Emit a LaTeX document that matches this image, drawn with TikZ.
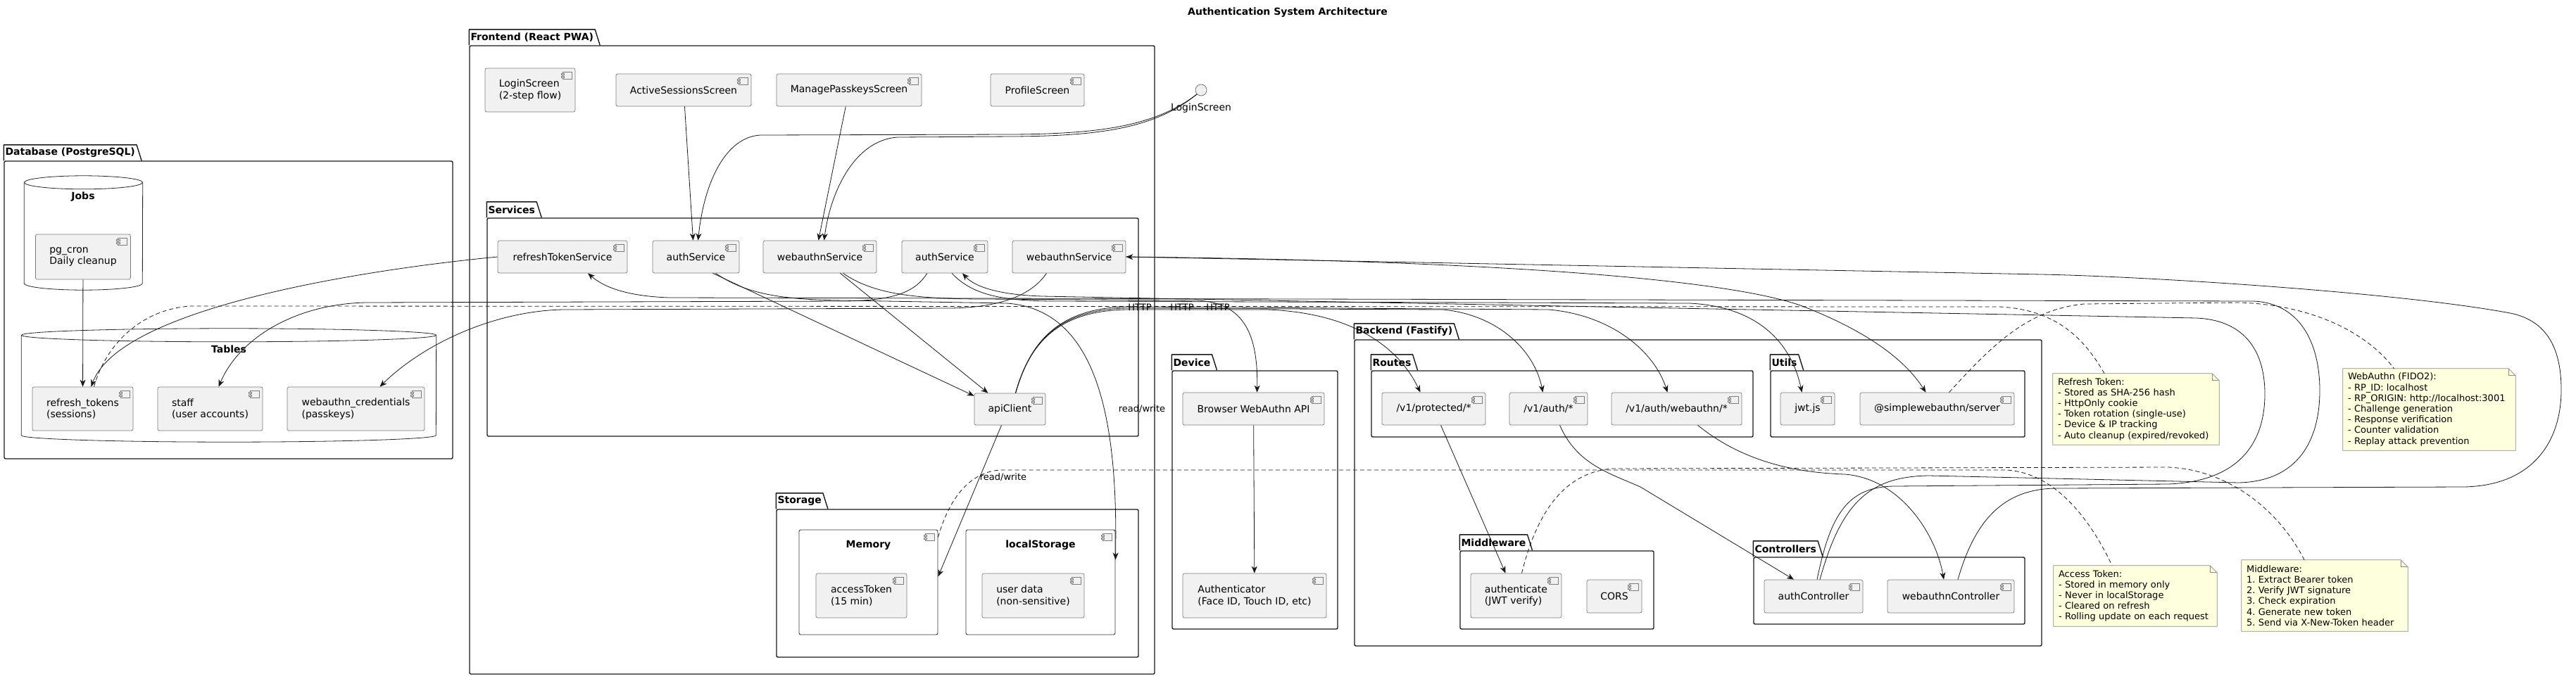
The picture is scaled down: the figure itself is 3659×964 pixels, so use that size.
\documentclass[tikz,border=0pt]{standalone}
\usepackage{fontspec}
\setmainfont{DejaVu Sans}
\usepackage{tikz}
\usetikzlibrary{positioning,arrows.meta,fit,backgrounds,calc}
\definecolor{compfill}{RGB}{241,241,241}
\definecolor{compline}{RGB}{125,125,125}
\definecolor{notefill}{RGB}{254,255,221}
\definecolor{noteline}{RGB}{140,140,140}
\definecolor{edgeline}{RGB}{24,24,24}
\frenchspacing
\tikzset{
  comp/.style={draw=compline, line width=0.7pt, fill=compfill, rounded corners=2.5pt,
    font=\fontsize{14}{16.5}\selectfont, align=left, inner sep=0pt, comp-icon},
  comp-icon/.style={path picture={
    \draw[draw=compline, line width=0.6pt, fill=compfill, sharp corners]
      ([xshift=-5pt,yshift=-5pt]path picture bounding box.north east) rectangle ++(-13pt,-10pt);
    \draw[draw=compline, line width=0.6pt, fill=compfill, sharp corners]
      ([xshift=-20pt,yshift=-7pt]path picture bounding box.north east) rectangle ++(4.5pt,-2.2pt);
    \draw[draw=compline, line width=0.6pt, fill=compfill, sharp corners]
      ([xshift=-20pt,yshift=-10.8pt]path picture bounding box.north east) rectangle ++(4.5pt,-2.2pt);}},
  comp-group/.style={draw=black!80, line width=0.9pt, fill=white, rounded corners=2.5pt,
    inner sep=0pt, comp-icon},
  group-title/.style={font=\fontsize{14}{16.5}\selectfont\bfseries},
  pkg-body/.style={draw=black!90, line width=1.4pt, rounded corners=2pt, inner sep=0pt},
  pkg-tab/.style={font=\fontsize{14}{16}\selectfont\bfseries, minimum height=22pt,
    inner xsep=2pt, inner ysep=0pt},
  pkg-line/.style={draw=black!90, line width=1.4pt, line join=round},
  cyl-line/.style={draw=black!85, line width=0.8pt},
  note-box/.style={font=\fontsize{13}{15.2}\selectfont, align=left, inner xsep=7pt, inner ysep=4pt},
  note-fill/.style={draw=noteline, fill=notefill, line width=0.7pt},
  flow-arrow/.style={-{Stealth[length=10pt,width=8pt,inset=3pt]}, line width=0.8pt, draw=edgeline},
  note-link/.style={dash pattern=on 6pt off 4pt, line width=0.8pt, draw=edgeline},
  edge-label/.style={font=\fontsize{13}{15}\selectfont},
  title-text/.style={font=\fontsize{14}{16}\selectfont\bfseries}
}
% folder tab on top of a package body
\newcommand{\pkgtab}[2]{%
  \node[pkg-tab, anchor=south west] (#1Tab) at (#1.north west) {#2};
  \draw[pkg-line] (#1Tab.south west) -- (#1Tab.north west) -- (#1Tab.north east)
    -- ([xshift=7pt]#1Tab.south east);}
% database cylinder
\newcommand{\dbcyl}[5]{%
  \node[fit={(#2,#3) (#4,#5)}, inner sep=0pt] (#1) {};
  \pgfmathsetmacro{\cylrx}{(#4-#2)/2}
  \draw[cyl-line] ([yshift=-9.5pt]#1.north west) -- ([yshift=9.5pt]#1.south west)
    arc[start angle=180, end angle=360, x radius=\cylrx pt, y radius=9.5pt]
    -- ([yshift=-9.5pt]#1.north east);
  \draw[cyl-line] ([yshift=-9.5pt]#1.north) ellipse [x radius=\cylrx pt, y radius=9.5pt];}
% note background with folded corner
\newcommand{\notefold}[1]{%
  \begin{scope}[on background layer]
    \filldraw[note-fill] (#1.north west) -- ([xshift=-10pt]#1.north east)
      -- ([yshift=-10pt]#1.north east) -- (#1.south east) -- (#1.south west) -- cycle;
    \draw[note-fill, fill=none] ([xshift=-10pt]#1.north east) |- ([yshift=-10pt]#1.north east);
  \end{scope}}

\begin{document}
\begin{tikzpicture}[x=1pt, y=-1pt]
\useasboundingbox (0,0) rectangle (3659,964);
\begin{scope}[on background layer]
  \fill[white] (0,0) rectangle (3659,964);
\end{scope}

\node[title-text] (title) at (1829,18) {Authentication System Architecture};

% Database
\node[pkg-body, fit={(6,229) (643,652)}] (dbPkg) {};
\pkgtab{dbPkg}{Database (PostgreSQL)}
\dbcyl{jobsCyl}{34.5}{250}{202.5}{412}
\node[group-title] (jobsLbl) at (118,280) {Jobs};
\dbcyl{tablesCyl}{30.5}{467}{619.5}{628}
\node[group-title] (tablesLbl) at (325,496) {Tables};
\node[comp, minimum width=135pt, minimum height=64pt] (pgCron) at (118,365) {pg\_cron\\Daily cleanup};
\node[comp, minimum width=143pt, minimum height=62pt] (refreshTbl) at (117.5,581) {refresh\_tokens\\(sessions)};
\node[comp, minimum width=149pt, minimum height=62pt] (staffTbl) at (298.5,581) {staff\\(user accounts)};
\node[comp, minimum width=195pt, minimum height=62pt] (credTbl) at (505.5,581) {webauthn\_credentials\\(passkeys)};

% Frontend
\node[pkg-body, fit={(667,65) (1640,958)}] (frontPkg) {};
\pkgtab{frontPkg}{Frontend (React PWA)}
\node[comp, minimum width=128pt, minimum height=62pt] (loginScr) at (753,128) {LoginScreen\\(2-step flow)};
\node[comp, minimum width=192pt, minimum height=46pt] (sessionsScr) at (971,128) {ActiveSessionsScreen};
\node[comp, minimum width=206pt, minimum height=46pt] (passkeysScr) at (1206,128) {ManagePasskeysScreen};
\node[comp, minimum width=133pt, minimum height=46pt] (profileScr) at (1473.5,128) {ProfileScreen};

\node[pkg-body, fit={(692,310) (1617,620)}] (svcPkg) {};
\pkgtab{svcPkg}{Services}
\node[comp, minimum width=184pt, minimum height=46pt] (refreshSvc) at (799,365) {refreshTokenService};
\node[comp, minimum width=123pt, minimum height=46pt] (authSvc) at (988.5,365) {authService};
\node[comp, minimum width=161pt, minimum height=46pt] (webauthnSvc) at (1164.5,365) {webauthnService};
\node[comp, minimum width=122pt, minimum height=46pt] (authSvcB) at (1342,365) {authService};
\node[comp, minimum width=161pt, minimum height=46pt] (webauthnSvcB) at (1518.5,365) {webauthnService};
\node[comp, minimum width=101pt, minimum height=45pt] (apiClient) at (1434.5,581.5) {apiClient};

\node[pkg-body, fit={(1103,724) (1617,934)}] (storePkg) {};
\pkgtab{storePkg}{Storage}
\node[comp-group, minimum width=197pt, minimum height=149pt,
  label={[group-title, anchor=center, yshift=-22pt]north:Memory}] (memBox) at (1233.5,827.5) {};
\node[comp, minimum width=129pt, minimum height=63pt] (accessTok) at (1223.5,846.5) {accessToken\\(15 min)};
\node[comp-group, minimum width=212pt, minimum height=149pt,
  label={[group-title, anchor=center, yshift=-22pt]north:localStorage}] (localBox) at (1478,827.5) {};
\node[comp, minimum width=145pt, minimum height=63pt] (userData) at (1467.5,846.5) {user data\\(non-sensitive)};

\node[circle, draw=black!60, fill=compfill, line width=0.7pt, minimum size=16pt, inner sep=0pt] (loginIf) at (1706,128) {};
\node[font=\fontsize{14}{16}\selectfont] (loginIfLbl) at (1706,154) {LoginScreen};

% Device
\node[pkg-body, fit={(1665,527) (1900,894)}] (devPkg) {};
\pkgtab{devPkg}{Device}
\node[comp, minimum width=201pt, minimum height=46pt] (browserApi) at (1780.5,581) {Browser WebAuthn API};
\node[comp, minimum width=204pt, minimum height=63pt] (authenticator) at (1782,846.5) {Authenticator\\(Face ID, Touch ID, etc)};

% Backend
\node[pkg-body, fit={(1924,483) (2900,918)}] (backPkg) {};
\pkgtab{backPkg}{Backend (Fastify)}
\node[pkg-body, fit={(1948,527) (2490,621)}] (routePkg) {};
\pkgtab{routePkg}{Routes}
\node[comp, minimum width=147pt, minimum height=46pt] (protRoute) at (2036.5,581) {/v1/protected/*};
\node[comp, minimum width=111pt, minimum height=46pt] (authRoute) at (2199.5,581) {/v1/auth/*};
\node[comp, minimum width=185pt, minimum height=46pt] (webauthnRoute) at (2381.5,581) {/v1/auth/webauthn/*};
\node[pkg-body, fit={(2515,527) (2876,621)}] (utilPkg) {};
\pkgtab{utilPkg}{Utils}
\node[comp, minimum width=77pt, minimum height=46pt] (jwtUtil) at (2567.5,581) {jwt.js};
\node[comp, minimum width=219pt, minimum height=46pt] (simpleWa) at (2751.5,581) {@simplewebauthn/server};
\node[pkg-body, fit={(2074,783) (2349,894)}] (mwPkg) {};
\pkgtab{mwPkg}{Middleware}
\node[comp, minimum width=129pt, minimum height=63pt] (authenticateMw) at (2153.5,846.5) {authenticate\\(JWT verify)};
\node[comp, minimum width=78pt, minimum height=47pt] (corsMw) at (2293,847.5) {CORS};
\node[pkg-body, fit={(2491,792) (2876,887)}] (ctrlPkg) {};
\pkgtab{ctrlPkg}{Controllers}
\node[comp, minimum width=140pt, minimum height=47pt] (authCtrl) at (2576,847.5) {authController};
\node[comp, minimum width=180pt, minimum height=47pt] (webauthnCtrl) at (2771,847.5) {webauthnController};

% Notes
\node[note-box, minimum width=236pt, minimum height=101pt, text width=222pt] (refreshNote) at (3034,581.5)
  {Refresh Token:\\- Stored as SHA-256 hash\\- HttpOnly cookie\\- Token rotation (single-use)\\- Device \& IP tracking\\- Auto cleanup (expired/revoked)};
\notefold{refreshNote}
\node[note-box, minimum width=245pt, minimum height=116pt, text width=231pt] (webauthnNote) at (3450.5,582)
  {WebAuthn (FIDO2):\\- RP\_ID: localhost\\- RP\_ORIGIN: http://localhost:3001\\- Challenge generation\\- Response verification\\- Counter validation\\- Replay attack prevention};
\notefold{webauthnNote}
\node[note-box, minimum width=232pt, minimum height=86pt, text width=218pt] (accessNote) at (3033,847)
  {Access Token:\\- Stored in memory only\\- Never in localStorage\\- Cleared on refresh\\- Rolling update on each request};
\notefold{accessNote}
\node[note-box, minimum width=236pt, minimum height=101pt, text width=222pt] (mwNote) at (3302,846.5)
  {Middleware:\\1. Extract Bearer token\\2. Verify JWT signature\\3. Check expiration\\4. Generate new token\\5. Send via X-New-Token header};
\notefold{mwNote}

% Screens to services
\draw[flow-arrow] (loginIf.south west) .. controls (1640,180) and (1560,190) .. (1440,191) -- (1080,192)
  .. controls (1030,195) and (1000,260) .. ([xshift=3pt]authSvc.north);
\draw[flow-arrow] (loginIf.south west) .. controls (1640,183) and (1560,193) .. (1440,194) -- (1275,195)
  .. controls (1215,199) and (1180,270) .. ([xshift=6pt]webauthnSvc.north);
\draw[flow-arrow] (sessionsScr) -- ([xshift=-4pt]authSvc.north);
\draw[flow-arrow] (passkeysScr) -- ([xshift=-2pt]webauthnSvc.north);

% Services to client and storage
\draw[flow-arrow] ([xshift=24pt]authSvc.south) -- ([yshift=-4pt]apiClient.north west);
\draw[flow-arrow] ([xshift=29pt]webauthnSvc.south) -- ([xshift=-31pt]apiClient.north);
\draw[flow-arrow] ([xshift=28pt]authSvc.south) .. controls (1060,418) and (1110,426) .. (1200,427) -- (1430,431)
  .. controls (1560,440) and (1588,600) .. ([yshift=32pt]localBox.east);
\node[edge-label] (rwLocal) at (1622,581) {read/write};
\draw[flow-arrow] ([xshift=-12pt]apiClient.south) -- ([yshift=8pt]memBox.east);
\node[edge-label] (rwMem) at (1425,678) {read/write};

% HTTP calls
\draw[flow-arrow] ([xshift=8pt]apiClient.north) .. controls (1462,490) and (1500,442) .. (1600,440) -- (1800,440)
  .. controls (1930,445) and (1990,500) .. ([xshift=-19pt]protRoute.north);
\draw[flow-arrow] ([xshift=8pt]apiClient.north) .. controls (1462,490) and (1500,440) .. (1600,438) -- (2050,440)
  .. controls (2130,448) and (2180,500) .. ([xshift=-8pt]authRoute.north);
\draw[flow-arrow] ([xshift=8pt]apiClient.north) .. controls (1462,490) and (1500,438) .. (1600,436) -- (2200,440)
  .. controls (2290,448) and (2350,500) .. ([xshift=-13pt]webauthnRoute.north);
\node[edge-label] (httpA) at (1619,437) {HTTP};
\node[edge-label] (httpB) at (1679,437) {HTTP};
\node[edge-label] (httpC) at (1730,437) {HTTP};

% Device
\draw[flow-arrow] ([xshift=33pt]webauthnSvc.south) .. controls (1240,418) and (1300,425) .. (1400,425) -- (1700,427)
  .. controls (1770,430) and (1787,480) .. ([xshift=5pt]browserApi.north);
\draw[flow-arrow] (browserApi) -- (authenticator);

% Routes to middleware and controllers
\draw[flow-arrow] ([xshift=10pt]protRoute.south) -- ([xshift=-15pt]authenticateMw.north);
\draw[flow-arrow] ([xshift=16pt]authRoute.south) .. controls (2240,660) and (2285,672) .. (2330,692)
  -- ([xshift=-28pt]authCtrl.north);
\draw[flow-arrow] ([xshift=30pt]webauthnRoute.south) .. controls (2480,660) and (2560,672) .. (2620,674)
  .. controls (2700,680) and (2750,760) .. ([xshift=-10pt]webauthnCtrl.north);

% Backend services
\draw[flow-arrow] ([xshift=10pt]authSvcB.south) .. controls (1380,418) and (1420,428) .. (1500,428) -- (2400,431)
  .. controls (2500,436) and (2545,490) .. ([xshift=-8pt]jwtUtil.north);
\draw[flow-arrow] (webauthnSvcB.east) .. controls (2100,370) and (2450,395) .. (2560,435)
  .. controls (2650,470) and (2705,510) .. ([xshift=-16pt]simpleWa.north);
\draw[flow-arrow] ([xshift=-25pt]authSvcB.south) .. controls (1300,415) and (1270,427) .. (1200,428) -- (520,430)
  .. controls (420,432) and (340,480) .. ([xshift=12pt]staffTbl.north);
\draw[flow-arrow] ([xshift=-32pt]webauthnSvcB.south) .. controls (1465,420) and (1420,437) .. (1350,438) -- (800,440)
  .. controls (700,442) and (600,490) .. ([xshift=34pt]credTbl.north);
\draw[flow-arrow] (refreshSvc.west) .. controls (500,385) and (170,440) .. ([xshift=12pt]refreshTbl.north);
\draw[flow-arrow] (pgCron) -- (refreshTbl);

% Controllers back to services
\draw[flow-arrow] ([xshift=5pt]authCtrl.north) .. controls (2600,730) and (2625,692) .. (2690,691) -- (3080,688)
  .. controls (3180,684) and (3217,630) .. (3217,560) .. controls (3217,495) and (3185,455) .. (3120,452)
  -- (1480,421) .. controls (1420,419) and (1385,408) .. ([xshift=25pt]authSvcB.south);
\draw[flow-arrow] ([xshift=9pt]authCtrl.north) .. controls (2615,715) and (2655,677) .. (2740,676) -- (3180,686)
  .. controls (3265,684) and (3295,625) .. (3295,555) .. controls (3295,485) and (3265,430) .. (3200,428)
  -- (950,423) .. controls (895,421) and (860,410) .. ([xshift=36pt]refreshSvc.south);
\draw[flow-arrow] ([xshift=10pt]webauthnCtrl.north) .. controls (2805,740) and (2845,695) .. (2920,694) -- (3500,692)
  .. controls (3600,690) and (3638,625) .. (3638,554) .. controls (3638,485) and (3610,452) .. (3560,444)
  .. controls (3400,415) and (3050,393) .. (2900,390) -- (webauthnSvcB.east);

% Note links
\draw[note-link] ([xshift=-45pt]refreshNote.north) .. controls (2960,480) and (2920,440) .. (2840,436) -- (270,435)
  .. controls (200,440) and (150,490) .. ([xshift=16pt]refreshTbl.north);
\draw[note-link] ([xshift=17pt]simpleWa.north) .. controls (2830,490) and (2880,440) .. (2960,432) -- (3180,430)
  .. controls (3280,433) and (3360,470) .. ([xshift=-50pt]webauthnNote.north);
\draw[note-link] ([yshift=64pt]memBox.east) .. controls (1345,720) and (1370,672) .. (1420,668) -- (2850,668)
  .. controls (2920,672) and (2970,740) .. ([xshift=-33pt]accessNote.north);
\draw[note-link] ([xshift=8pt]authenticateMw.north) .. controls (2180,740) and (2215,672) .. (2290,666) -- (3080,664)
  .. controls (3170,668) and (3240,730) .. ([xshift=-29pt]mwNote.north);
\end{tikzpicture}
\end{document}
